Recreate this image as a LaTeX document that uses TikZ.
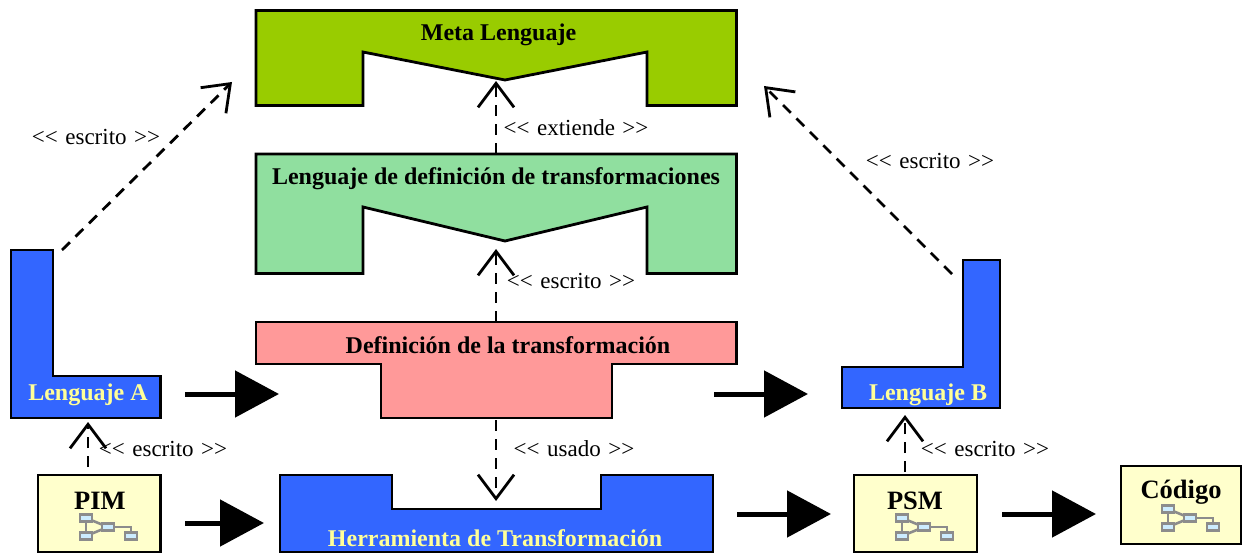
\documentclass[tikz,border=0pt]{standalone}
\usepackage{fontspec}
\setmainfont{Liberation Serif}
\usetikzlibrary{arrows.meta}
\definecolor{metag}{HTML}{99CC00}
\definecolor{mint}{HTML}{90DF9F}
\definecolor{rosa}{HTML}{FF9999}
\definecolor{azul}{HTML}{3366FF}
\definecolor{crema}{HTML}{FFFFCC}
\definecolor{letra}{HTML}{FFFF99}
\definecolor{icog}{HTML}{8C8C8C}
\definecolor{icob}{HTML}{CCECFF}
\newcommand{\ltag}{<{}<\hspace{7.5pt}}
\newcommand{\rtag}{\hspace{7.5pt}>{}>}
\tikzset{
  x=1pt,y=-1pt,
  solid box/.style={draw=black,line width=2.8pt,line join=miter},
  title/.style={font=\fontsize{24}{26}\selectfont\bfseries,inner sep=0pt,text=black},
  titlelight/.style={title,text=letra},
  bigtitle/.style={title,font=\fontsize{26.5}{28}\selectfont\bfseries},
  tag/.style={font=\fontsize{23}{26}\selectfont,inner sep=0pt,text=black},
  fat/.style={line width=5pt,-{Triangle[length=44pt,width=46pt]}},
  thin dash/.style={line width=2.8pt,dash pattern=on 11pt off 8pt,-{Straight Barb[length=24pt,width=36pt,line width=2.8pt]}},
  icobox/.style={draw=icog,fill=icob,line width=2.6pt,minimum width=12pt,minimum height=7pt,inner sep=0pt,outer sep=0pt},
  icoline/.style={draw=icog,line width=2.6pt},
  pics/ico/.style={code={
    \draw[icoline] (0,0)--(0,18);
    \draw[icoline] (0,0)--(22,9)--(0,18);
    \draw[icoline] (22,9)--(45,9)--(45,18);
    \node[icobox] at (0,0) {};
    \node[icobox] at (22,9) {};
    \node[icobox] at (0,18) {};
    \node[icobox] at (45,18) {};
  }}
}
\begin{document}
\begin{tikzpicture}
\useasboundingbox (0,0) rectangle (1242,553);
% shapes
\draw[solid box,fill=metag] (256,10.5)--(736.5,10.5)--(736.5,105.5)--(647,105.5)--(647,52)--(505,80)--(363,52)--(363,105.5)--(256,105.5)--cycle;
\draw[solid box,fill=mint] (256,154)--(736.5,154)--(736.5,273.5)--(647,273.5)--(647,207)--(505,241)--(363,207)--(363,273.5)--(256,273.5)--cycle;
\draw[solid box,fill=rosa] (256,322)--(736.5,322)--(736.5,364)--(612,364)--(612,418)--(381,418)--(381,364)--(256,364)--cycle;
\draw[solid box,fill=azul] (11,250)--(53,250)--(53,376)--(160.5,376)--(160.5,418)--(11,418)--cycle;
\draw[solid box,fill=azul] (963,260)--(1000,260)--(1000,408)--(842,408)--(842,367)--(963,367)--cycle;
\draw[solid box,fill=azul] (280,475)--(392,475)--(392,509)--(601,509)--(601,475)--(713,475)--(713,552)--(280,552)--cycle;
\draw[solid box,fill=crema] (38,475) rectangle (160.5,552);
\draw[solid box,fill=crema] (854,475) rectangle (977,552);
\draw[solid box,fill=crema] (1121,466) rectangle (1241,544);
% icons
\pic at (86,518) {ico};
\pic at (902,518) {ico};
\pic at (1168,509) {ico};
% titles
\node[title] (meta) at (498.5,35) {Meta Lenguaje};
\node[title] (ldt) at (496,179) {Lenguaje de definición de transformaciones};
\node[title] (def) at (508,345) {Definición de la transformación};
\node[titlelight] (la) at (88,395) {Lenguaje A};
\node[titlelight] (lb) at (928,395) {Lenguaje B};
\node[titlelight] (her) at (495,538) {Herramienta de Transformación};
\node[bigtitle] (pim) at (100,500.5) {PIM};
\node[bigtitle] (psm) at (915,500.5) {PSM};
\node[bigtitle] (cod) at (1181,492) {Código};
% tags
\node[tag] (t1) at (96,137) {\ltag escrito\rtag};
\node[tag] (t2) at (930,161) {\ltag escrito\rtag};
\node[tag] (t3) at (576,128) {\ltag extiende\rtag};
\node[tag] (t4) at (571,281) {\ltag escrito\rtag};
\node[tag] (t5) at (574,449) {\ltag usado\rtag};
\node[tag] (t6) at (163,449) {\ltag escrito\rtag};
\node[tag] (t7) at (985,449) {\ltag escrito\rtag};
% connector ends
\coordinate (aS) at (62,250); \coordinate (aE) at (232,82);
\coordinate (bS) at (952,274); \coordinate (bE) at (764,86);
\coordinate (eS) at (496,154); \coordinate (eE) at (496,81);
\coordinate (gS) at (496,322); \coordinate (gE) at (496,249);
\coordinate (uS) at (496,420); \coordinate (uE) at (496,501);
\coordinate (pS) at (88,467); \coordinate (pE) at (88,422);
\coordinate (qS) at (905,472); \coordinate (qE) at (905,415);
\coordinate (f1S) at (185,394); \coordinate (f1E) at (279,394);
\coordinate (f2S) at (185,523); \coordinate (f2E) at (264,523);
\coordinate (f3S) at (714,394); \coordinate (f3E) at (808,394);
\coordinate (f4S) at (737,514); \coordinate (f4E) at (831,514);
\coordinate (f5S) at (1002,514); \coordinate (f5E) at (1096,514);
\foreach \a/\b in {aS/aE,bS/bE,eS/eE,gS/gE,uS/uE,pS/pE,qS/qE}
  \draw[thin dash] (\a)--(\b);
\foreach \a/\b in {f1S/f1E,f2S/f2E,f3S/f3E,f4S/f4E,f5S/f5E}
  \draw[fat] (\a)--(\b);
\end{tikzpicture}
\end{document}
